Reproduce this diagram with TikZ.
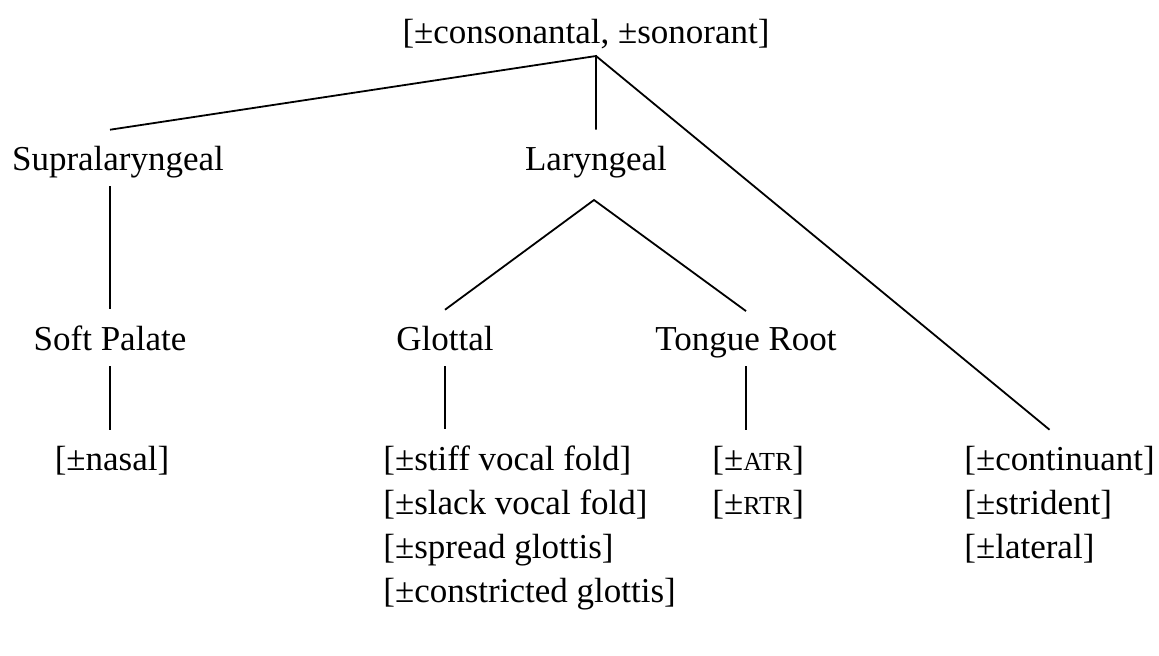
\documentclass[tikz,border=0pt]{standalone}
\usepackage{fontspec}
\setmainfont{Liberation Serif}
\usetikzlibrary{positioning}
\newcommand{\smc}[1]{{\fontsize{13pt}{13pt}\selectfont #1}}

\begin{document}
\begin{tikzpicture}[x=0.5pt,y=-0.5pt,
  font=\fontsize{17.5pt}{22pt}\selectfont,
  cat/.style={anchor=base,inner sep=0pt,outer ysep=8pt,text depth=0pt},
  feat/.style={anchor=base west,inner sep=0pt,outer ysep=8pt},
  branch/.style={line width=0.9pt}]
\useasboundingbox (0,0) rectangle (1159,655);
% root and its fork
\node[cat] (root) at (586,43) {[±consonantal, ±sonorant]};
\coordinate (root-fork) at (596,56);

% second tier
\node[cat] (supra) at (118,170) {Supralaryngeal};
\node[cat] (laryn) at (596,170) {Laryngeal};
\coordinate (laryn-fork) at (594,200);

% third tier
\node[cat] (softp) at (110,350) {Soft Palate};
\node[cat] (glot) at (445,350) {Glottal};
\node[cat] (troot) at (746,350) {Tongue Root};

% features
\node[feat,anchor=base] (nasal) at (112,470) {[±nasal]};
\node[feat] (stiff) at (383,470) {[±stiff vocal fold]};
\node[feat] (slack) at (383,514) {[±slack vocal fold]};
\node[feat] (spread) at (383,558) {[±spread glottis]};
\node[feat] (constr) at (383,602) {[±constricted glottis]};
\node[feat] (atr) at (712,470) {[±\smc{ATR}]};
\node[feat] (rtr) at (712,514) {[±\smc{RTR}]};
\node[feat] (cont) at (964,470) {[±continuant]};
\node[feat] (strid) at (964,514) {[±strident]};
\node[feat] (lat) at (964,558) {[±lateral]};

% branches
\draw[branch] (supra.north -| softp.north) -- (root-fork) -- (laryn.north);
\draw[branch] (root-fork) -- ([xshift=-5pt]cont.north);
\draw[branch] (softp.north |- supra.south) -- (softp.north);
\draw[branch] (glot.north) -- (laryn-fork) -- (troot.north);
\draw[branch] (softp.south) -- (softp.south |- nasal.north);
\draw[branch] (glot.south) -- (glot.south |- stiff.north);
\draw[branch] (troot.south) -- (troot.south |- atr.north);
\end{tikzpicture}
\end{document}
